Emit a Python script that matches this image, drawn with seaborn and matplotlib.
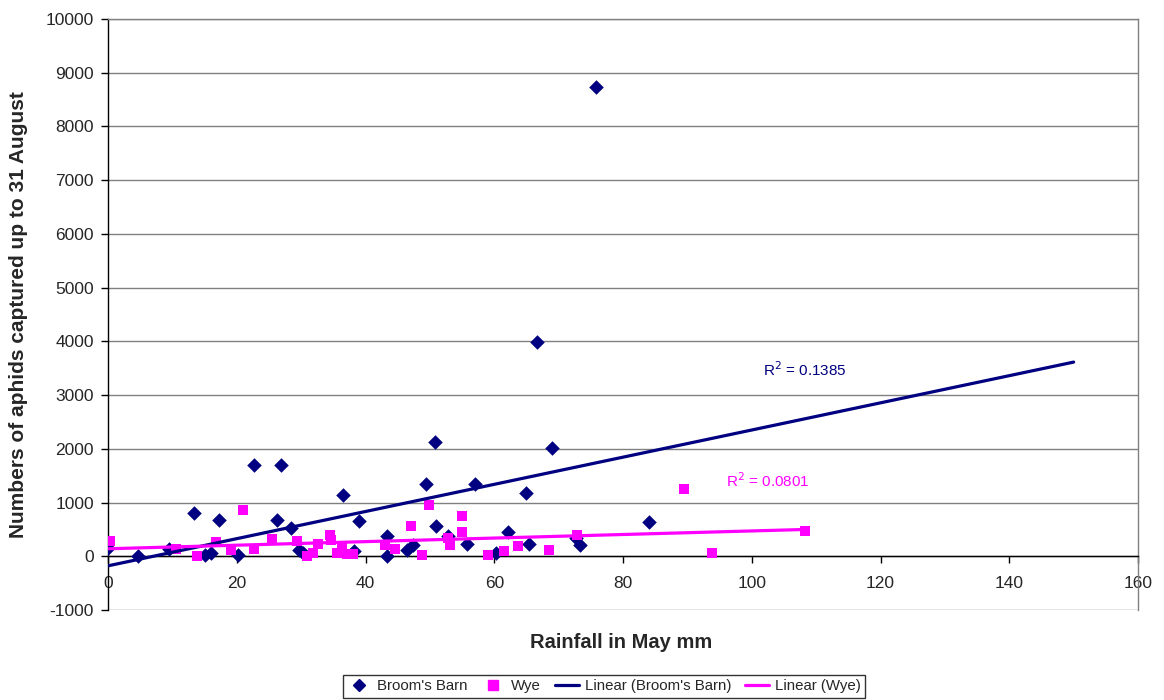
import numpy as np
import pandas as pd
import matplotlib
matplotlib.use("Agg")
import matplotlib.pyplot as plt
import seaborn as sns
from matplotlib.lines import Line2D

# ---- data ----
bb_rain = [0, 4.7, 9.5, 13.3, 15.1, 16.0, 17.3, 20.2, 22.7, 26.2, 26.8, 28.5, 29.7, 30.3,
           36.5, 38.2, 39.0, 43.4, 43.4, 46.5, 47.4, 49.4, 50.8, 50.9, 52.8, 55.8, 57.0,
           60.2, 62.2, 65.0, 65.4, 66.6, 68.9, 72.7, 73.3, 75.8, 84.0]
bb_aphids = [150, 10, 135, 804, 15, 60, 667, 15, 1691, 667, 1704, 525, 108, 60,
             1132, 102, 661, 375, 0, 121, 214, 1344, 2119, 555, 369, 227, 1344,
             60, 443, 1177, 220, 3995, 2007, 339, 214, 8730, 637]

wye_rain = [0.3, 10.6, 13.8, 16.8, 19.1, 20.9, 22.7, 25.5, 29.3, 30.9, 31.9, 32.6, 34.5,
            34.7, 35.6, 36.4, 37.2, 38.1, 43.1, 44.6, 47.0, 48.7, 49.8, 52.8, 53.1, 55.0,
            55.0, 59.1, 61.5, 63.7, 68.5, 72.8, 89.4, 93.8, 108.2]
wye_aphids = [289, 134, 9, 264, 121, 866, 140, 320, 276, 9, 60, 227, 395,
              307, 60, 153, 41, 47, 214, 134, 568, 28, 959, 339, 214, 754,
              451, 28, 102, 183, 121, 400, 1257, 60, 462]

x_ticks = [0, 20, 40, 60, 80, 100, 120, 140, 160]
y_ticks = [-1000, 0, 1000, 2000, 3000, 4000, 5000, 6000, 7000, 8000, 9000, 10000]
r2_labels = ["R$^2$ = 0.1385", "R$^2$ = 0.0801"]
series_names = ["Broom's Barn", "Wye"]

NAVY = "#000080"
MAGENTA = "#FF00FF"

sns.set_style("white")
plt.rcParams["font.family"] = ["Liberation Sans", "DejaVu Sans"]

fig = plt.figure(figsize=(11.64, 7.0), dpi=100)
ax = fig.add_axes([108 / 1164, 1 - 610 / 700, (1138 - 108) / 1164, (610 - 19) / 700])

bb = pd.DataFrame({"rain": bb_rain, "aphids": bb_aphids})
wy = pd.DataFrame({"rain": wye_rain, "aphids": wye_aphids})

sns.scatterplot(data=bb, x="rain", y="aphids", ax=ax, marker="D", s=55,
                color=NAVY, edgecolor=NAVY, linewidth=0, zorder=3)
sns.scatterplot(data=wy, x="rain", y="aphids", ax=ax, marker="s", s=62,
                color=MAGENTA, edgecolor=MAGENTA, linewidth=0, zorder=3)

# linear trend lines (Broom's Barn forecast forward to 150)
b_slope, b_int = np.polyfit(bb["rain"], bb["aphids"], 1)
w_slope, w_int = np.polyfit(wy["rain"], wy["aphids"], 1)
bx = np.array([0, 150])
wx = np.array([0, max(wye_rain)])
sns.lineplot(x=bx, y=b_slope * bx + b_int, ax=ax, color=NAVY, linewidth=2.3, zorder=4)
sns.lineplot(x=wx, y=w_slope * wx + w_int, ax=ax, color=MAGENTA, linewidth=2.3, zorder=4)

ax.text(101.7, 3470, r2_labels[0], color=NAVY, fontsize=11, va="center", ha="left")
ax.text(96.0, 1410, r2_labels[1], color=MAGENTA, fontsize=11, va="center", ha="left")

ax.spines["bottom"].set_position(("data", 0))
ax.set_xlim(0, 160)
ax.set_ylim(-1000, 10000)
ax.set_xticks(x_ticks)
ax.set_yticks(y_ticks)
ax.set_xticklabels([str(v) for v in x_ticks])
ax.set_yticklabels([str(v) for v in y_ticks])

ax.yaxis.grid(True, color="#808080", linewidth=1)
ax.xaxis.grid(False)
ax.set_axisbelow(True)

ax.spines["bottom"].set_color("black")
ax.spines["left"].set_color("black")
ax.spines["top"].set_color("#808080")
ax.spines["right"].set_color("#808080")
for s in ax.spines.values():
    s.set_linewidth(1)
ax.tick_params(axis="both", direction="out", length=5, width=1, color="black",
               bottom=True, left=True, labelsize=12.5)
ax.tick_params(axis="x", pad=9)
ax.tick_params(axis="y", pad=5)

ax.set_xlabel("")
ax.set_ylabel("")
fig.text(621 / 1164, 1 - 643 / 700, "Rainfall in May mm", ha="center", va="center",
         fontsize=14.5, fontweight="bold")
fig.text(19 / 1164, 1 - 315 / 700, "Numbers of aphids captured up to 31 August",
         ha="center", va="center", rotation=90, fontsize=15, fontweight="bold")

handles = [
    Line2D([], [], marker="D", color=NAVY, linestyle="none", markersize=6),
    Line2D([], [], marker="s", color=MAGENTA, linestyle="none", markersize=7),
    Line2D([], [], color=NAVY, linewidth=2.3),
    Line2D([], [], color=MAGENTA, linewidth=2.3),
]
labels = [series_names[0], series_names[1],
          f"Linear ({series_names[0]})", f"Linear ({series_names[1]})"]
leg = fig.legend(handles, labels, loc="center", bbox_to_anchor=(604 / 1164, 1 - 686 / 700),
                 ncol=4, fontsize=10.8, frameon=True, fancybox=False, handlelength=1.6,
                 handletextpad=0.4, columnspacing=0.9, borderpad=0.3)
leg.get_frame().set_edgecolor("black")
leg.get_frame().set_linewidth(1)

fig.savefig("out.png", dpi=100)
